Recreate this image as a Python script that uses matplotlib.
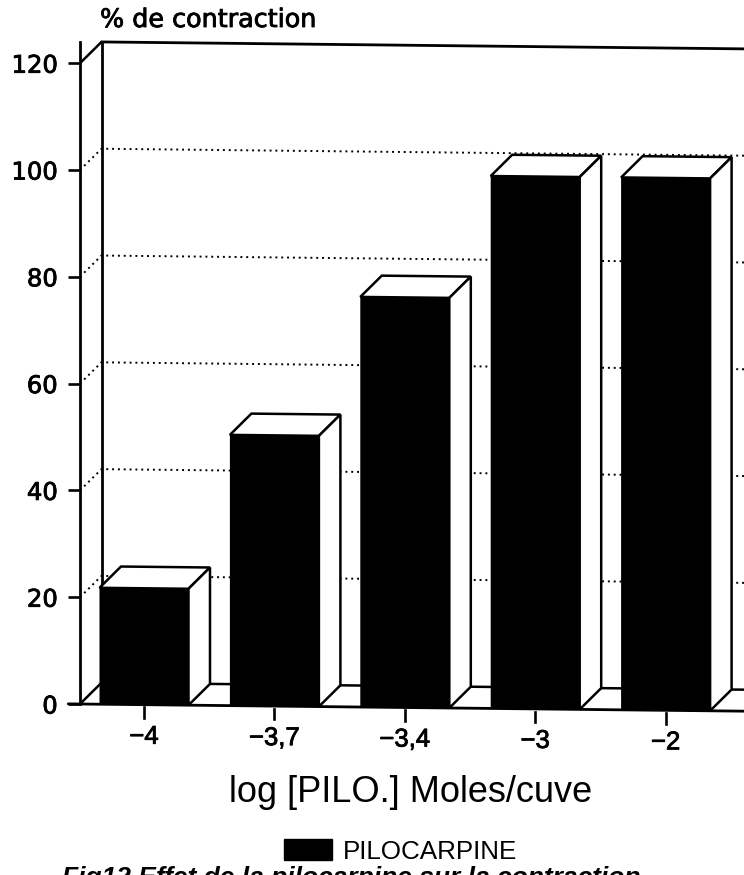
import matplotlib
matplotlib.use('Agg')
import matplotlib.pyplot as plt
import matplotlib.patheffects as pe
from matplotlib.patches import Polygon, Rectangle
from matplotlib.transforms import Affine2D

categories = ['-4', '-3,7', '-3,4', '-3', '-2']
values = [21.8, 50.7, 76.8, 99.7, 99.7]
y_ticks = [0, 20, 40, 60, 80, 100, 120]
grid_values = [20, 40, 60, 80, 100]

W, H = 744, 875
PX_X = 130.4     # pixels per category
PX_Y = 5.34      # pixels per percent
DEPTH = 21.5     # 3d offset in pixels

# printed text is a bit fatter than the font
heavy = [pe.withStroke(linewidth=0.6, foreground='black')]

fig = plt.figure(figsize=(W / 100, H / 100), dpi=100)
ax = fig.add_axes([80 / W, (H - 704) / H, 664 / W, 662 / H])
ax.set_xlim(-64 / PX_X, 600 / PX_X)
ax.set_ylim(0, 662 / PX_Y)
ax.patch.set_visible(False)

# the scan sits slightly crooked, things sink to the right
x0 = ax.get_xlim()[0]
k = -0.0108 * PX_X / PX_Y
tilt = Affine2D.from_values(1, k, 0, 1, 0, -k * x0) + ax.transData

dx = DEPTH / PX_X
dy = DEPTH / PX_Y
xr = ax.get_xlim()[1]


def line(xs, ys, **kw):
    kw.setdefault('color', 'black')
    kw.setdefault('lw', 1.8)
    ax.plot(xs, ys, transform=tilt, clip_on=False, solid_capstyle='round', **kw)


# back wall, left wall and floor
line([x0 + dx, xr], [120 + dy, 120 + dy], lw=2.0)
line([x0, x0 + dx], [120, 120 + dy])
line([x0 + dx, x0 + dx], [dy, 120 + dy], lw=2.0)
line([x0 + dx, xr], [dy, dy])
line([x0, x0 + dx], [0, dy])
line([x0 - 0.09, xr], [0, 0], lw=2.0)
for v in grid_values:
    line([x0, x0 + dx, xr], [v, v + dy, v + dy], lw=1.4, ls=(0, (1, 2.0)), zorder=1)

# bars, front face through ax.bar and the depth as polygons
width = 89 / PX_X
bars = ax.bar(range(len(values)), values, width, color='black', transform=tilt, zorder=4,
              clip_on=False)
for i, v in enumerate(values):
    l, r = i - width / 2, i + width / 2
    ax.add_patch(Polygon([(l, v), (r, v), (r + dx, v + dy), (l + dx, v + dy)], closed=True,
                         fc='white', ec='black', lw=1.8, transform=tilt, zorder=3))
    ax.add_patch(Polygon([(r, 0), (r, v), (r + dx, v + dy), (r + dx, dy)], closed=True,
                         fc='white', ec='black', lw=1.8, transform=tilt, zorder=3,
                         clip_on=False))

ax.spines[['top', 'right', 'bottom']].set_visible(False)
ax.spines['left'].set_linewidth(2.0)
ax.set_xticks([])
ax.set_yticks(y_ticks)
ax.tick_params(axis='y', length=9, width=1.9, pad=7, labelsize=17.5)
for lab in ax.get_yticklabels():
    lab.set_path_effects(heavy)

# x ticks follow the tilt so they are drawn here
for i, c in enumerate(categories):
    ax.plot([i, i], [-0.5, -2.5], color='black', lw=1.9, transform=tilt, clip_on=False)
    ax.text(i, -6.0, c.replace('-', '\u2212'), transform=tilt, ha='center', va='center',
            fontsize=18.5, family='Liberation Sans', path_effects=heavy)

fig.text(100 / W, (H - 20) / H, '% de contraction', ha='left', va='center',
         fontsize=18.3, family='DejaVu Sans', path_effects=heavy)
fig.text(411 / W, (H - 792) / H, 'log [PILO.] Moles/cuve', ha='center', va='center', fontsize=26,
         family='Liberation Sans')

fig.add_artist(Rectangle((284 / W, (H - 860) / H), 48 / W, 21 / H, color='black',
                         transform=fig.transFigure))
fig.text(343 / W, (H - 852) / H, 'PILOCARPINE', ha='left', va='center', fontsize=18.7,
         family='Liberation Sans')
fig.text(62 / W, (H - 866) / H, 'Fig12 Effet de la pilocarpine sur la contraction', ha='left', va='top',
         fontsize=19, family='Liberation Sans', fontweight='bold', style='italic')

fig.savefig('out.png', dpi=100)
